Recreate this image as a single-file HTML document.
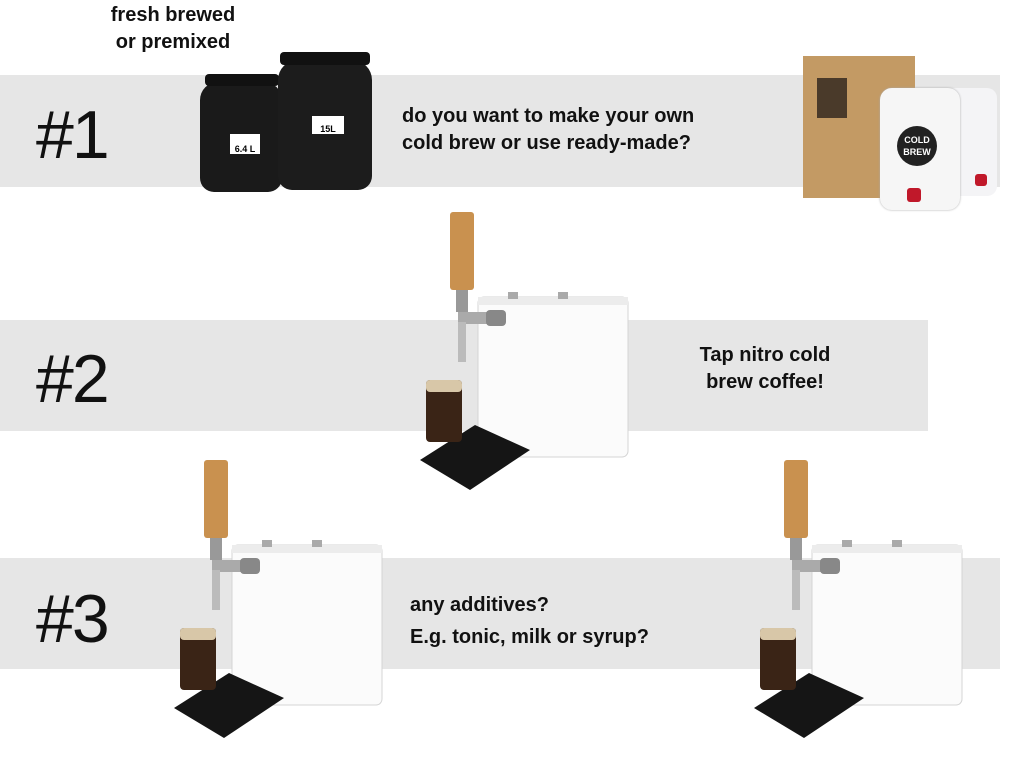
<!DOCTYPE html>
<html><head><meta charset="utf-8"><style>
html,body{margin:0;padding:0;background:#fff;}
body{width:1024px;height:766px;position:relative;overflow:hidden;font-family:"Liberation Sans",sans-serif;}
.band{position:absolute;background:#e6e6e6;}
.num{position:absolute;font-size:68px;font-weight:300;color:#111;letter-spacing:-2px;}
.t{position:absolute;font-size:20px;font-weight:bold;color:#111;line-height:27px;}
.a{position:absolute;}
</style></head><body>
<div class="band" style="left:0;top:75px;width:1000px;height:112px"></div>
<div class="band" style="left:0;top:320px;width:928px;height:111px"></div>
<div class="band" style="left:0;top:558px;width:1000px;height:111px"></div>
<div class="num" style="left:36px;top:96px">#1</div>
<div class="num" style="left:36px;top:340px">#2</div>
<div class="num" style="left:36px;top:580px">#3</div>
<div class="t" style="left:100px;top:2px;text-align:center;width:146px">fresh brewed<br>or premixed</div>
<div class="t" style="left:402px;top:103px">do you want to make your own<br>cold brew or use ready-made?</div>
<div class="t" style="left:688px;top:342px;text-align:center;width:154px">Tap nitro cold<br>brew coffee!</div>
<div class="t" style="left:410px;top:589px;line-height:32px">any additives?<br>E.g. tonic, milk or syrup?</div>

<div class="a" style="left:200px;top:82px;width:82px;height:110px;background:#1a1a1a;border-radius:18px 18px 14px 14px"></div>
<div class="a" style="left:205px;top:74px;width:74px;height:12px;background:#111;border-radius:4px"></div>
<div class="a" style="left:278px;top:60px;width:94px;height:130px;background:#1c1c1c;border-radius:20px 20px 14px 14px"></div>
<div class="a" style="left:280px;top:52px;width:90px;height:13px;background:#111;border-radius:4px"></div>
<div class="a" style="left:230px;top:134px;width:30px;height:20px;background:#fff;font-size:9px;color:#000;font-weight:bold;text-align:center;line-height:30px">6.4 L</div>
<div class="a" style="left:312px;top:116px;width:32px;height:18px;background:#fff;font-size:9px;color:#000;font-weight:bold;text-align:center;line-height:26px">15L</div>

<div class="a" style="left:803px;top:56px;width:112px;height:142px;background:#c39a64"></div>
<div class="a" style="left:817px;top:78px;width:30px;height:40px;background:#4a3a2a"></div>
<div class="a" style="left:945px;top:88px;width:52px;height:108px;background:#f4f4f6;border-radius:10px"></div>
<div class="a" style="left:880px;top:88px;width:80px;height:122px;background:#f6f6f6;border-radius:12px;box-shadow:0 0 2px #aaa"></div>
<div class="a" style="left:897px;top:126px;width:40px;height:40px;background:#222;border-radius:50%;color:#fff;font-size:9px;font-weight:bold;text-align:center;line-height:12px"><div style="padding-top:8px">COLD<br>BREW</div></div>
<div class="a" style="left:907px;top:188px;width:14px;height:14px;background:#c0182a;border-radius:3px"></div>
<div class="a" style="left:975px;top:174px;width:12px;height:12px;background:#c0182a;border-radius:3px"></div>

<svg class="a" style="left:0;top:0" width="1024" height="766">
<defs>
<g id="m">
 <rect x="30" y="85" width="150" height="160" rx="6" fill="#fbfbfb" stroke="#d4d4d4"/>
 <rect x="30" y="85" width="150" height="8" fill="#ececec"/>
 <rect x="60" y="80" width="10" height="7" fill="#aaa"/><rect x="110" y="80" width="10" height="7" fill="#aaa"/>
 <rect x="2" y="0" width="24" height="78" rx="3" fill="#c9914f"/>
 <rect x="8" y="78" width="12" height="22" fill="#999"/>
 <rect x="10" y="100" width="30" height="12" fill="#aaa"/>
 <rect x="38" y="98" width="20" height="16" rx="4" fill="#888"/>
 <rect x="10" y="110" width="8" height="40" fill="#bbb"/>
 <polygon points="-28,248 27,213 82,238 22,278" fill="#151515"/>
 <rect x="-22" y="168" width="36" height="62" rx="4" fill="#3a2416"/>
 <rect x="-22" y="168" width="36" height="12" rx="4" fill="#d8c7a8"/>
</g>
</defs>
<use href="#m" x="448" y="212"/>
<use href="#m" x="202" y="460"/>
<use href="#m" x="782" y="460"/>
</svg>
</body></html>
